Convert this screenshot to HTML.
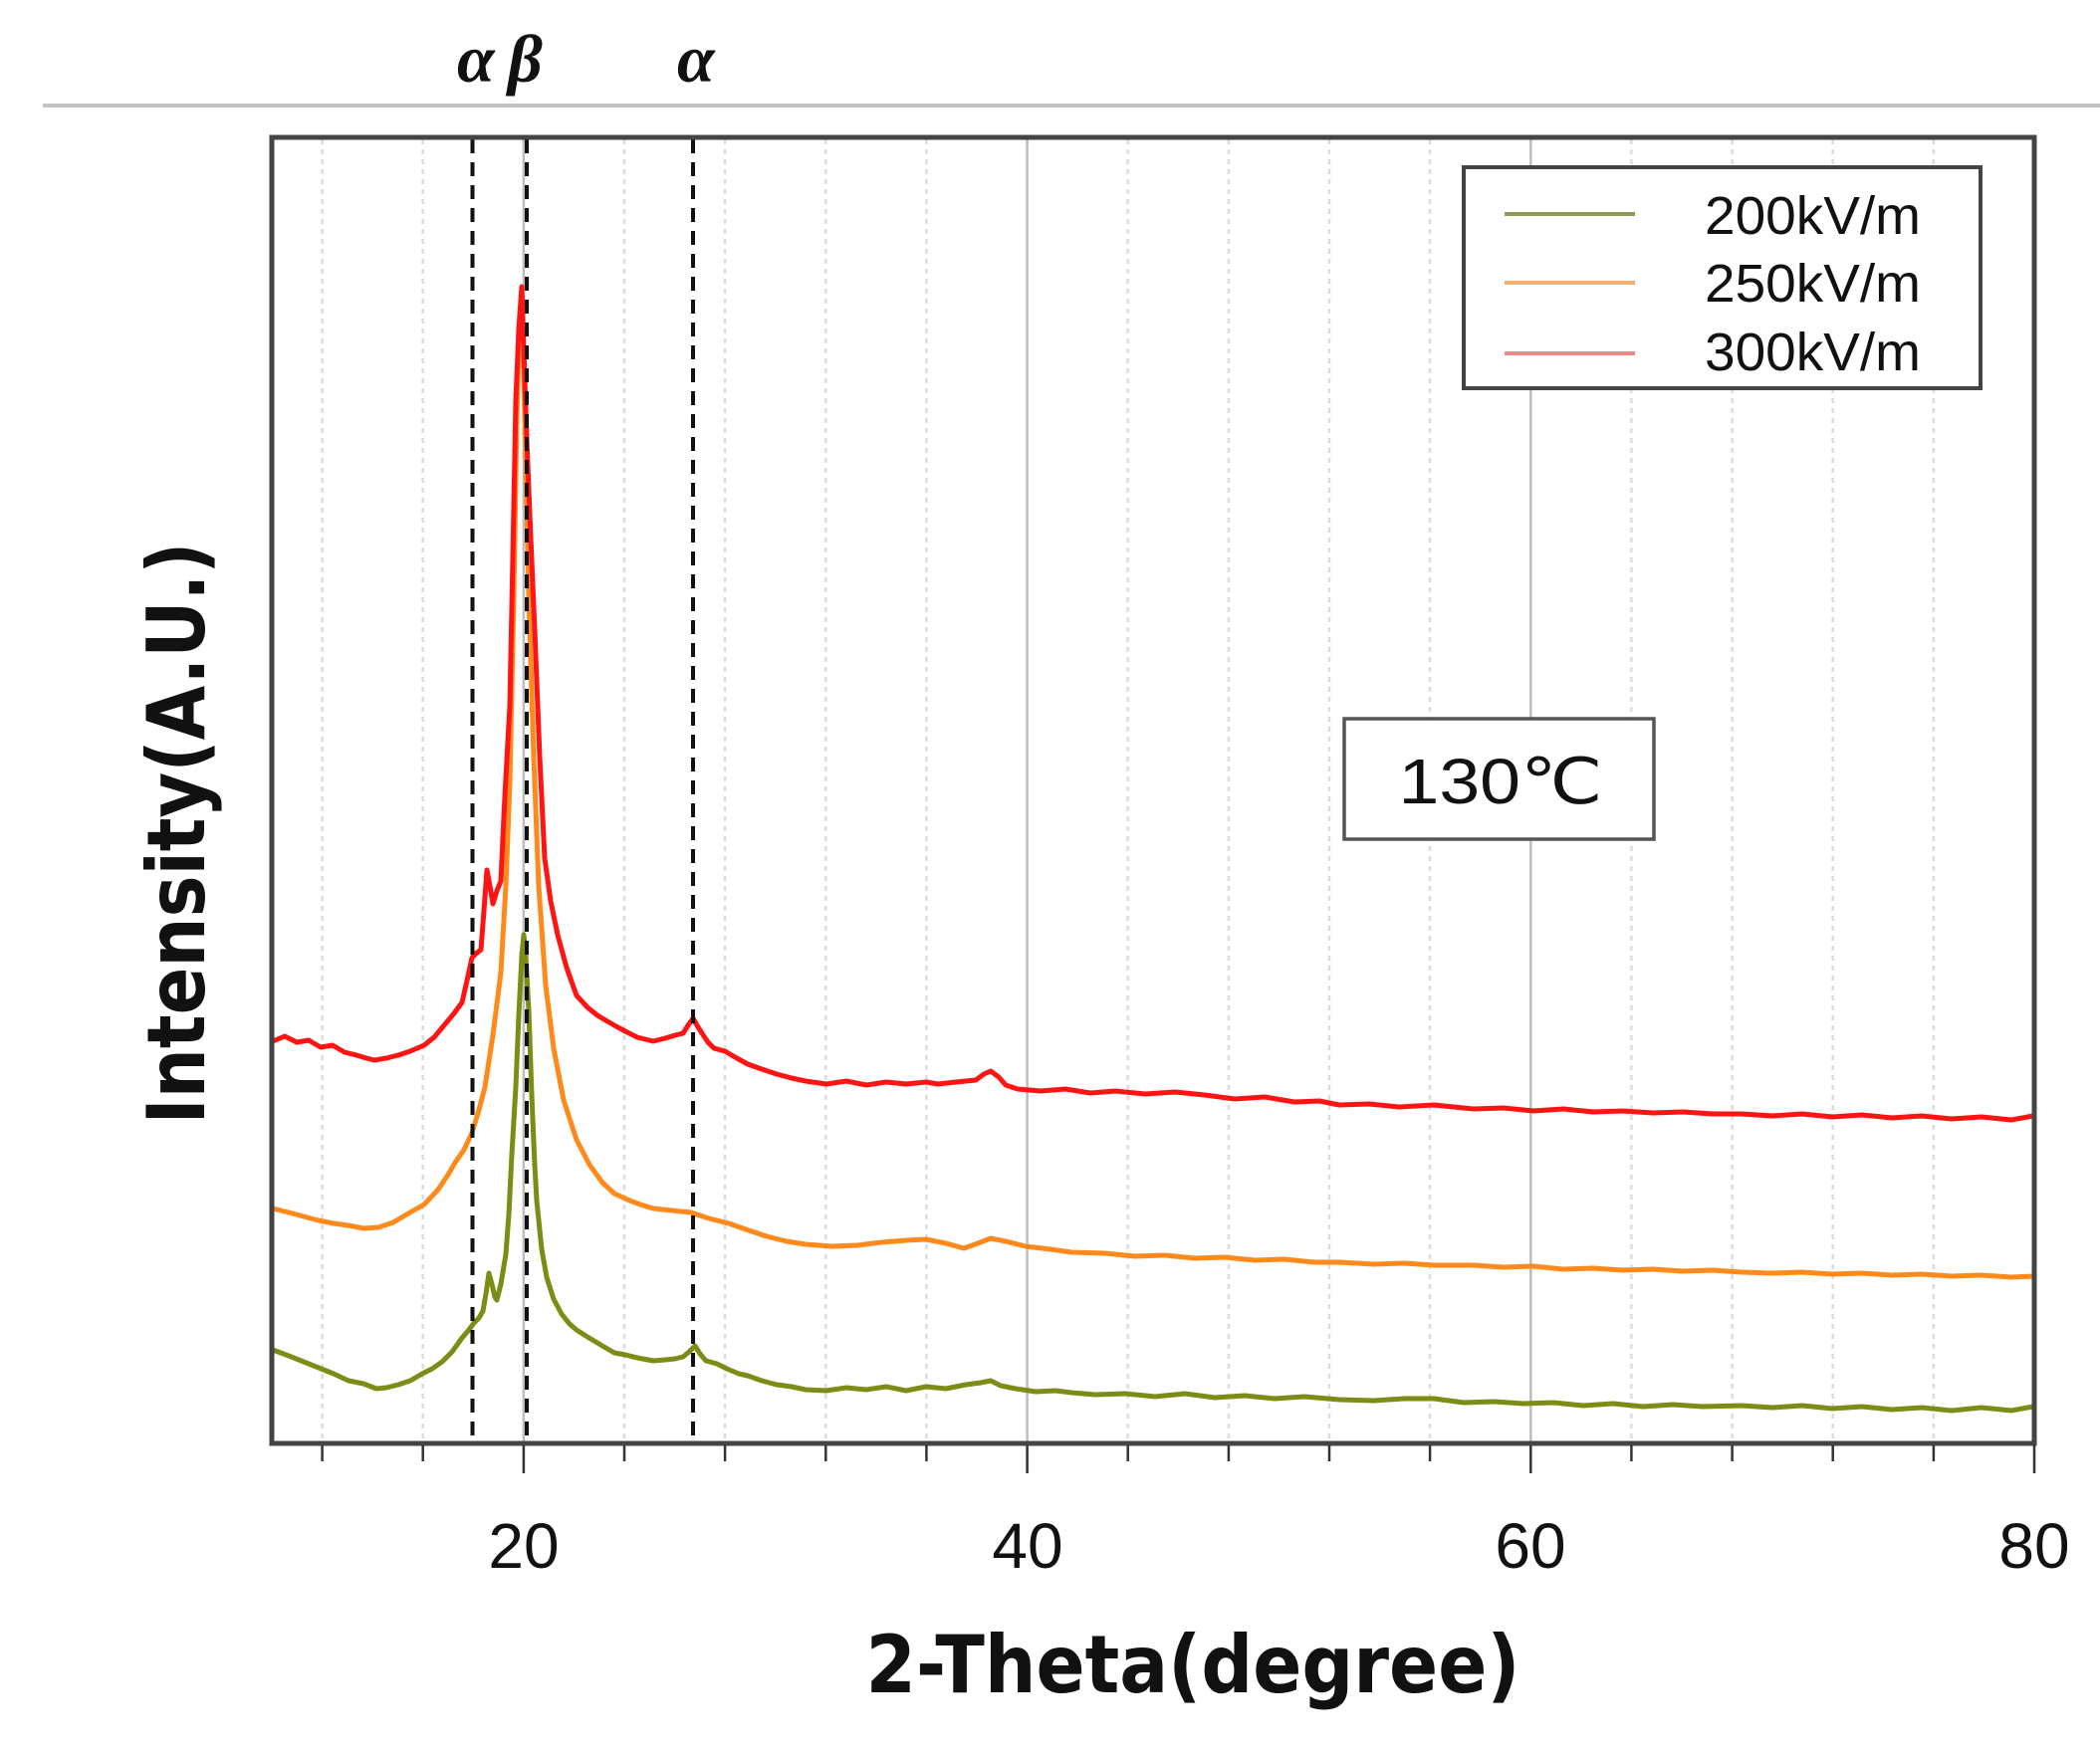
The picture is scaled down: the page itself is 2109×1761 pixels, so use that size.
<!DOCTYPE html>
<html><head><meta charset="utf-8"><style>
html,body{margin:0;padding:0;background:#fff;}
svg{display:block;}
</style></head><body>
<svg width="2109" height="1761" viewBox="0 0 2109 1761" xmlns="http://www.w3.org/2000/svg">
<line x1="43" y1="106" x2="2109" y2="106" stroke="#c4c4c4" stroke-width="4"/>
<path d="M323.6 140V1448M424.7 140V1448M627 140V1448M728.1 140V1448M829.3 140V1448M930.4 140V1448M1132.7 140V1448M1233.9 140V1448M1335 140V1448M1436.1 140V1448M1638.4 140V1448M1739.6 140V1448M1840.7 140V1448M1941.9 140V1448" stroke="#dcdcdc" stroke-width="2.5" stroke-dasharray="5 5" fill="none"/>
<path d="M525.9 140V1448M1031.6 140V1448M1537.3 140V1448" stroke="#bdbdbd" stroke-width="2.5" fill="none"/>
<g fill="none" stroke-width="5" stroke-linejoin="round">
<polyline stroke="#7d8c14" points="274,1356 290,1362 305,1368 320,1374 335,1380 350,1387 365,1390 378,1395 388,1394 400,1391 412,1387 424,1380 434,1375 444,1368 454,1358 464,1344 470,1337 476,1329 481,1324 485,1317 488,1300 491,1279 494,1290 497,1303 499,1306 503,1290 508,1260 511,1220 514,1160 518,1092 521,1020 524,960 526,939 528,960 531,1015 534,1100 537,1170 539,1206 544,1255 549,1283 556,1305 564,1320 572,1330 579,1336 590,1343 600,1349 610,1355 617,1359 628,1361 640,1364 656,1367 668,1366 678,1365 686,1363 692,1358 698,1352 703,1360 709,1367 720,1370 730,1375 742,1380 751,1382 765,1387 780,1391 795,1393 809,1396 830,1397 850,1394 870,1396 890,1393 910,1397 930,1393 950,1395 970,1391 985,1389 995,1387 1005,1392 1020,1395 1040,1398 1060,1397 1076,1399 1100,1401 1130,1400 1160,1403 1190,1400 1220,1404 1250,1402 1280,1405 1310,1403 1345,1406 1380,1407 1410,1405 1440,1405 1470,1409 1500,1408 1530,1410 1560,1409 1590,1412 1620,1410 1650,1413 1680,1411 1710,1413 1749,1412 1780,1414 1810,1412 1840,1415 1870,1413 1900,1416 1930,1414 1960,1417 1990,1414 2020,1417 2042,1413"/>
<polyline stroke="#ff8a1c" points="274,1214 290,1218 305,1222 320,1226 335,1229 350,1231 365,1234 380,1233 395,1228 410,1219 426,1210 440,1195 450,1180 457,1168 466,1155 474,1138 481,1115 487,1092 495,1040 503,977 508,890 512,786 516,600 519,420 522,320 525,330 528,460 531,600 536,760 541,890 548,990 556,1053 566,1105 579,1145 592,1170 605,1188 617,1199 630,1205 643,1210 656,1214 675,1216 694,1218 712,1224 732,1229 752,1236 770,1242 790,1247 809,1250 835,1252 861,1251 885,1248 910,1246 930,1245 950,1249 968,1254 982,1249 995,1244 1010,1247 1030,1252 1055,1255 1076,1258 1110,1259 1140,1262 1170,1261 1200,1264 1230,1263 1260,1266 1290,1265 1320,1268 1345,1268 1380,1270 1410,1269 1440,1271 1480,1271 1510,1273 1540,1272 1570,1275 1600,1274 1630,1276 1660,1275 1690,1277 1720,1276 1749,1278 1780,1279 1810,1278 1840,1280 1870,1279 1900,1281 1930,1280 1960,1282 1990,1281 2020,1283 2042,1282"/>
<polyline stroke="#ff1414" points="274,1046 286,1041 298,1047 310,1045 322,1052 334,1050 346,1057 358,1060 368,1063 376,1065 388,1063 400,1060 412,1056 426,1050 436,1042 446,1030 456,1018 464,1007 469,985 474,962 478,958 483,954 486,915 489,874 492,890 495,908 499,895 503,885 507,800 512,709 515,560 518,403 521,330 524,288 526,350 529,441 533,540 537,633 542,760 547,862 553,905 560,939 569,972 579,1000 590,1012 600,1020 610,1026 617,1030 628,1036 640,1042 656,1046 668,1043 678,1040 686,1038 691,1030 696,1023 700,1030 705,1038 711,1047 717,1053 728,1056 740,1063 751,1069 765,1074 780,1079 795,1083 809,1086 830,1089 850,1086 870,1090 890,1087 910,1089 930,1087 942,1089 960,1087 980,1085 988,1079 995,1076 1003,1082 1010,1090 1022,1094 1045,1096 1070,1094 1095,1098 1120,1096 1150,1099 1180,1097 1210,1100 1240,1104 1270,1102 1300,1107 1325,1106 1345,1110 1375,1109 1405,1112 1440,1110 1480,1114 1510,1113 1540,1116 1570,1114 1600,1117 1630,1116 1660,1118 1690,1117 1720,1119 1749,1119 1780,1121 1810,1119 1840,1122 1870,1120 1900,1123 1930,1121 1960,1124 1990,1122 2020,1125 2042,1121"/>
</g>
<g stroke="#111" stroke-width="4" stroke-dasharray="14 9">
<line x1="474.5" y1="140" x2="474.5" y2="1450"/>
<line x1="529" y1="140" x2="529" y2="1450"/>
<line x1="696" y1="140" x2="696" y2="1450"/>
</g>
<rect x="273" y="138" width="1770" height="1312" fill="none" stroke="#444" stroke-width="5"/>
<path d="M323.6 1452V1468M424.7 1452V1468M525.9 1452V1480M627 1452V1468M728.1 1452V1468M829.3 1452V1468M930.4 1452V1468M1031.6 1452V1480M1132.7 1452V1468M1233.9 1452V1468M1335 1452V1468M1436.1 1452V1468M1537.3 1452V1480M1638.4 1452V1468M1739.6 1452V1468M1840.7 1452V1468M1941.9 1452V1468M2043 1452V1480" stroke="#333" stroke-width="2.5" fill="none"/>
<g font-family="Liberation Sans, DejaVu Sans, sans-serif" font-size="64" fill="#111" text-anchor="middle">
<text x="526" y="1575">20</text>
<text x="1032" y="1575">40</text>
<text x="1537" y="1575">60</text>
<text x="2043" y="1575">80</text>
</g>
<text x="1198" y="1700" font-family="DejaVu Sans, Liberation Sans, sans-serif" font-weight="bold" font-size="80" text-anchor="middle" textLength="657" lengthAdjust="spacingAndGlyphs" fill="#111">2-Theta(degree)</text>
<text transform="translate(205,837) rotate(-90)" x="0" y="0" font-family="DejaVu Sans, Liberation Sans, sans-serif" font-weight="bold" font-size="80" text-anchor="middle" textLength="585" lengthAdjust="spacingAndGlyphs" fill="#111">Intensity(A.U.)</text>
<g font-family="Liberation Serif, DejaVu Serif, serif" font-weight="bold" font-style="italic" font-size="68" fill="#111">
<text x="459" y="82">α</text>
<text x="510" y="82">β</text>
<text x="680" y="82">α</text>
</g>
<rect x="1470" y="168" width="519" height="222" fill="#fff" stroke="#444" stroke-width="4"/>
<line x1="1511" y1="215" x2="1642" y2="215" stroke="#8f9a55" stroke-width="4"/>
<line x1="1511" y1="284" x2="1642" y2="284" stroke="#ecb072" stroke-width="4"/>
<line x1="1511" y1="355" x2="1642" y2="355" stroke="#ec8a8a" stroke-width="4"/>
<g font-family="Liberation Sans, DejaVu Sans, sans-serif" font-size="54" fill="#111">
<text x="1712" y="235" textLength="217" lengthAdjust="spacingAndGlyphs">200kV/m</text>
<text x="1712" y="303" textLength="217" lengthAdjust="spacingAndGlyphs">250kV/m</text>
<text x="1712" y="372" textLength="217" lengthAdjust="spacingAndGlyphs">300kV/m</text>
</g>
<rect x="1350" y="722" width="311" height="121" fill="#fff" stroke="#555" stroke-width="3.5"/>
<text x="1507" y="807" font-family="Liberation Sans, DejaVu Sans, sans-serif" font-size="64" fill="#111" text-anchor="middle" textLength="205" lengthAdjust="spacingAndGlyphs">130℃</text>
</svg>
</body></html>
